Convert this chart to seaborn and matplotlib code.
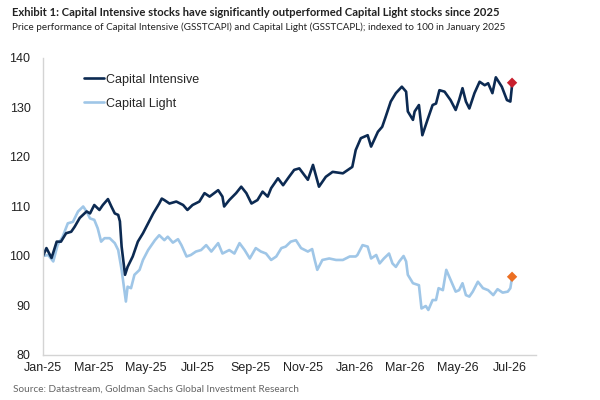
import pandas as pd
import matplotlib
matplotlib.use("Agg")
import matplotlib.pyplot as plt
import matplotlib.dates as mdates
from matplotlib import font_manager
import seaborn as sns

# ---------- Data ----------
ci_dates = ["2025-01-01", "2025-01-05", "2025-01-11", "2025-01-17", "2025-01-22", "2025-01-28",
            "2025-02-03", "2025-02-07", "2025-02-13", "2025-02-21", "2025-02-25", "2025-03-02",
            "2025-03-08", "2025-03-12", "2025-03-18", "2025-03-22", "2025-03-26", "2025-03-30",
            "2025-04-01", "2025-04-03", "2025-04-07", "2025-04-10", "2025-04-16", "2025-04-22",
            "2025-04-28", "2025-05-04", "2025-05-10", "2025-05-17", "2025-05-20", "2025-05-23",
            "2025-05-29", "2025-06-06", "2025-06-14", "2025-06-19", "2025-06-25", "2025-07-03",
            "2025-07-09", "2025-07-15", "2025-07-25", "2025-07-30", "2025-08-01", "2025-08-07",
            "2025-08-15", "2025-08-21", "2025-08-27", "2025-09-02", "2025-09-09", "2025-09-15",
            "2025-09-21", "2025-09-25", "2025-10-03", "2025-10-09", "2025-10-16", "2025-10-22",
            "2025-10-28", "2025-11-07", "2025-11-13", "2025-11-20", "2025-11-28", "2025-12-06",
            "2025-12-18", "2025-12-29", "2026-01-02", "2026-01-08", "2026-01-16", "2026-01-20",
            "2026-01-28", "2026-02-02", "2026-02-06", "2026-02-12", "2026-02-18", "2026-02-25",
            "2026-03-02", "2026-03-04", "2026-03-10", "2026-03-12", "2026-03-17", "2026-03-21",
            "2026-03-27", "2026-04-02", "2026-04-06", "2026-04-10", "2026-04-16", "2026-04-23",
            "2026-04-29", "2026-05-03", "2026-05-07", "2026-05-11", "2026-05-15", "2026-05-21",
            "2026-05-27", "2026-06-02", "2026-06-06", "2026-06-11", "2026-06-15", "2026-06-22",
            "2026-06-28", "2026-07-02", "2026-07-04"]
ci_values = [100.0, 101.6, 99.6, 102.9, 102.9, 104.6,
             104.9, 105.9, 107.7, 109.0, 108.6, 110.3,
             109.3, 110.3, 111.5, 110.0, 108.6, 108.3,
             107.0, 101.9, 96.2, 97.8, 99.9, 102.9,
             104.6, 106.6, 108.6, 110.6, 111.6, 111.3,
             110.6, 111.0, 110.3, 109.3, 110.3, 111.0,
             112.7, 112.0, 113.3, 112.0, 110.0, 111.3,
             112.7, 114.0, 112.7, 110.6, 111.3, 113.0,
             112.0, 113.7, 115.7, 114.3, 116.0, 117.4,
             117.7, 115.4, 118.4, 114.0, 116.0, 117.0,
             116.7, 118.0, 121.4, 123.8, 124.4, 122.1,
             125.1, 126.1, 128.1, 131.2, 132.9, 134.2,
             133.2, 129.2, 127.5, 129.2, 130.5, 124.4,
             127.5, 130.5, 130.8, 133.5, 133.2, 131.5,
             129.5, 131.5, 133.9, 131.2, 129.8, 132.9,
             135.2, 134.5, 134.9, 132.9, 136.1, 134.2,
             131.5, 131.2, 134.5]

cl_dates = ["2025-01-01", "2025-01-07", "2025-01-13", "2025-01-18", "2025-01-24", "2025-01-30",
            "2025-02-05", "2025-02-11", "2025-02-17", "2025-02-21", "2025-02-25", "2025-03-02",
            "2025-03-06", "2025-03-10", "2025-03-14", "2025-03-20", "2025-03-26", "2025-03-30",
            "2025-04-03", "2025-04-08", "2025-04-10", "2025-04-14", "2025-04-18", "2025-04-24",
            "2025-04-28", "2025-05-04", "2025-05-12", "2025-05-17", "2025-05-23", "2025-05-27",
            "2025-06-02", "2025-06-08", "2025-06-12", "2025-06-18", "2025-06-23", "2025-06-29",
            "2025-07-05", "2025-07-11", "2025-07-17", "2025-07-25", "2025-07-30", "2025-08-07",
            "2025-08-13", "2025-08-19", "2025-08-25", "2025-08-31", "2025-09-07", "2025-09-13",
            "2025-09-19", "2025-09-25", "2025-10-01", "2025-10-07", "2025-10-12", "2025-10-18",
            "2025-10-24", "2025-10-30", "2025-11-07", "2025-11-12", "2025-11-15", "2025-11-18",
            "2025-11-24", "2025-12-02", "2025-12-10", "2025-12-18", "2025-12-26", "2026-01-02",
            "2026-01-04", "2026-01-10", "2026-01-16", "2026-01-20", "2026-01-26", "2026-01-30",
            "2026-02-04", "2026-02-10", "2026-02-14", "2026-02-18", "2026-02-22", "2026-02-27",
            "2026-03-02", "2026-03-04", "2026-03-10", "2026-03-17", "2026-03-20", "2026-03-25",
            "2026-03-28", "2026-04-02", "2026-04-06", "2026-04-09", "2026-04-14", "2026-04-18",
            "2026-04-23", "2026-04-29", "2026-05-03", "2026-05-07", "2026-05-11", "2026-05-15",
            "2026-05-19", "2026-05-25", "2026-05-31", "2026-06-06", "2026-06-12", "2026-06-17",
            "2026-06-23", "2026-06-29", "2026-07-02", "2026-07-04"]
cl_values = [100.0, 100.2, 98.9, 102.2, 103.9, 106.6,
             106.9, 109.0, 110.0, 109.0, 107.6, 107.3,
             105.6, 102.9, 103.6, 103.6, 102.6, 101.2,
             97.2, 90.8, 93.8, 93.5, 96.2, 97.2,
             99.2, 101.2, 103.2, 104.2, 103.2, 103.9,
             102.7, 103.4, 102.2, 99.9, 100.2, 100.9,
             101.2, 102.2, 100.9, 102.6, 100.5, 101.2,
             100.5, 102.6, 101.2, 99.5, 101.6, 100.9,
             100.5, 99.2, 99.9, 101.6, 101.9, 102.9,
             103.2, 101.6, 100.9, 101.4, 99.2, 97.2,
             99.2, 99.5, 99.2, 99.2, 99.9, 99.9,
             100.2, 102.2, 101.9, 99.5, 100.2, 98.5,
             99.5, 100.5, 98.5, 97.8, 98.9, 100.0,
             98.9, 96.2, 94.5, 94.1, 89.4, 89.9,
             89.1, 91.1, 91.1, 93.5, 93.1, 97.2,
             95.2, 92.8, 93.1, 94.5, 92.1, 91.8,
             92.8, 94.8, 93.5, 93.1, 92.1, 93.3,
             92.6, 92.8, 93.5, 95.7]

series_names = ["Capital Intensive", "Capital Light"]
last_ci = 135.0
last_cl = 95.8
y_ticks = [80, 90, 100, 110, 120, 130, 140]

title = "Exhibit 1: Capital Intensive stocks have significantly outperformed Capital Light stocks since 2025"
subtitle = "Price performance of Capital Intensive (GSSTCAPI) and Capital Light (GSSTCAPL); indexed to 100 in January 2025"
source = "Source: Datastream, Goldman Sachs Global Investment Research"

# ---------- Frame ----------
df = pd.concat([
    pd.DataFrame({"date": pd.to_datetime(ci_dates), "value": ci_values, "series": series_names[0]}),
    pd.DataFrame({"date": pd.to_datetime(cl_dates), "value": cl_values, "series": series_names[1]}),
], ignore_index=True)
ends = pd.DataFrame({"date": pd.to_datetime([ci_dates[-1], cl_dates[-1]]),
                     "value": [last_ci, last_cl], "series": series_names})

# ---------- Plot ----------
sns.set_style("white")
plt.rcParams["font.family"] = ["Liberation Sans", "DejaVu Sans"]

installed = {f.name for f in font_manager.fontManager.ttflist}
narrow = "Liberation Sans Narrow" if "Liberation Sans Narrow" in installed else "Lato"
hdr_font = [narrow, "DejaVu Sans"]

navy, light = "#0c2a52", "#9fc6e7"
fig = plt.figure(figsize=(6, 4), dpi=100)
ax = fig.add_axes([0.0717, 0.1125, 0.8216, 0.7425])

sns.lineplot(data=df, x="date", y="value", hue="series", hue_order=series_names[::-1],
             palette={series_names[0]: navy, series_names[1]: light}, linewidth=1.9, ax=ax)
sns.scatterplot(data=ends, x="date", y="value", hue="series",
                palette={series_names[0]: "#c8202e", series_names[1]: "#ec6f22"},
                marker="D", s=28, edgecolor="none", legend=False, ax=ax, zorder=5)

ax.set_xlim(pd.Timestamp("2025-01-01"), pd.Timestamp("2026-08-01"))
ax.set_ylim(80, 140)
ax.set_yticks(y_ticks)
ax.xaxis.set_major_locator(mdates.MonthLocator(bymonth=[1, 3, 5, 7, 9, 11]))
ax.xaxis.set_major_formatter(mdates.DateFormatter("%b-%y"))
ax.set_xlabel(""); ax.set_ylabel("")
for s in ["top", "right"]:
    ax.spines[s].set_visible(False)
for s in ["left", "bottom"]:
    ax.spines[s].set_color("#d4d4d4"); ax.spines[s].set_linewidth(1.0)
ax.tick_params(axis="both", labelsize=9, colors="#222222", length=3, width=0.8,
               color="#d4d4d4", pad=2, direction="out")
ax.tick_params(axis="y", pad=6)

h, l = ax.get_legend_handles_labels()
order = [l.index(n) for n in series_names]
ax.legend([h[i] for i in order], [l[i] for i in order], loc="upper left",
          bbox_to_anchor=(0.06, 0.985), frameon=False, fontsize=9, handlelength=1.6,
          handletextpad=0.15, labelspacing=0.95)

# header / footer text, sized to span the same width as in the reference
t1 = fig.text(0.02, 0.97, title, fontsize=10.5, fontweight="bold", va="center", color="#222222", family=hdr_font)
t2 = fig.text(0.02, 0.932, subtitle, fontsize=9.5, va="center", color="#222222", family=hdr_font)
t3 = fig.text(0.022, 0.026, source, fontsize=8.5, va="center", color="#666666", family=hdr_font)
fig.canvas.draw()
r = fig.canvas.get_renderer()
for t, target in [(t1, 493), (t2, 495), (t3, 284)]:
    w = t.get_window_extent(r).width
    t.set_fontsize(t.get_fontsize() * target / w)

fig.savefig("out.png", dpi=100)
